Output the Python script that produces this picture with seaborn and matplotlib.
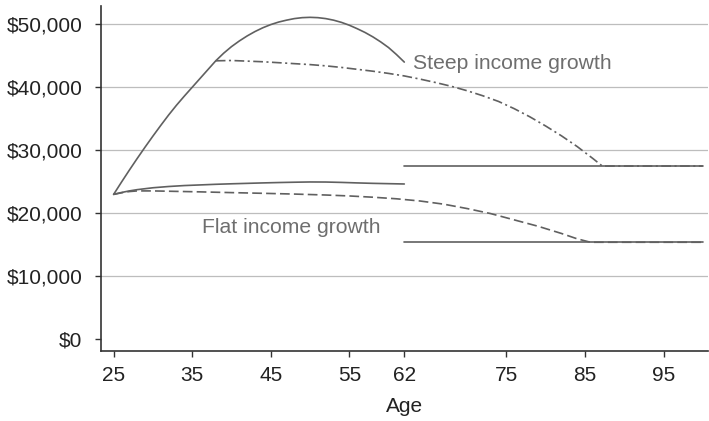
import matplotlib
matplotlib.use("Agg")
import matplotlib.pyplot as plt
import seaborn as sns
import pandas as pd

# ---------------- data ----------------
steep_work_age = [25, 26, 27, 28, 29, 30, 31, 32, 33, 34, 35, 36, 37, 38, 39, 40,
                  41, 42, 43, 44, 45, 46, 47, 48, 49, 50, 51, 52, 53, 54, 55, 56,
                  57, 58, 59, 60, 61, 62]
steep_work_val = [23000, 24950, 26850, 28700, 30500, 32250, 33950, 35600, 37150,
                  38600, 40000, 41400, 42800, 44200, 45400, 46450, 47350, 48150,
                  48850, 49450, 49950, 50350, 50650, 50900, 51050, 51100, 51050,
                  50900, 50650, 50300, 49850, 49300, 48700, 48000, 47200, 46300,
                  45200, 44000]

steep_spend_age = [38, 40, 42, 44, 46, 48, 50, 52, 54, 56, 58, 60, 62, 64, 66, 68,
                   70, 72, 74, 76, 78, 80, 82, 84, 86, 87.2, 100]
steep_spend_val = [44200, 44250, 44150, 44050, 43900, 43750, 43600, 43400, 43150,
                   42850, 42550, 42200, 41800, 41300, 40750, 40150, 39450, 38650,
                   37750, 36600, 35300, 33850, 32300, 30600, 28700, 27500, 27500]

steep_retire_age = [62, 100]
steep_retire_val = [27500, 27500]

flat_work_age = [25, 26, 27, 28, 30, 32, 34, 36, 38, 40, 42, 44, 46, 48, 50, 52,
                 54, 56, 58, 60, 62]
flat_work_val = [23000, 23300, 23550, 23750, 24050, 24250, 24400, 24500, 24600,
                 24680, 24750, 24820, 24880, 24930, 24970, 24960, 24900, 24820,
                 24750, 24700, 24650]

flat_spend_age = [25, 26, 27, 28, 30, 32, 36, 40, 44, 48, 52, 55, 58, 61, 64, 67,
                  70, 73, 76, 79, 82, 84, 85.7, 100]
flat_spend_val = [23000, 23250, 23450, 23550, 23550, 23500, 23400, 23280, 23170,
                  23050, 22900, 22750, 22550, 22300, 21950, 21450, 20750, 19950,
                  18950, 17950, 16800, 15950, 15400, 15400]

flat_retire_age = [62, 100]
flat_retire_val = [15400, 15400]

x_ticks = [25, 35, 45, 55, 62, 75, 85, 95]
y_ticks = [0, 10000, 20000, 30000, 40000, 50000]
y_tick_labels = ["$0", "$10,000", "$20,000", "$30,000", "$40,000", "$50,000"]

label_steep = "Steep income growth"
label_flat = "Flat income growth"
x_label = "Age"

# ---------------- style ----------------
sns.set_theme(style="white")
plt.rcParams["font.family"] = ["Liberation Sans", "DejaVu Sans"]
plt.rcParams["lines.scale_dashes"] = False

line_color = "#606060"
lw = 1.2

fig = plt.figure(figsize=(7.09, 4.21), dpi=100)
ax = fig.add_axes([0.142, 0.167, 0.857, 0.8195])

# gridlines (behind)
for yv in y_ticks[1:]:
    ax.axhline(yv, color="#bdbdbd", lw=0.9, zorder=0)

def draw(ages, vals, ls):
    df = pd.DataFrame({"age": ages, "value": vals})
    sns.lineplot(data=df, x="age", y="value", ax=ax, color=line_color,
                 linewidth=lw, linestyle=ls, sort=False, estimator=None, zorder=3)

draw(steep_work_age, steep_work_val, "-")
draw(steep_spend_age, steep_spend_val, (0, (7, 2.5, 1.5, 2.5)))
draw(steep_retire_age, steep_retire_val, "-")
draw(flat_work_age, flat_work_val, "-")
draw(flat_spend_age, flat_spend_val, (0, (7, 3)))
draw(flat_retire_age, flat_retire_val, "-")

ax.text(63.1, 42860, label_steep, fontsize=15.2, color="#6e6e6e", va="baseline", ha="left")
ax.text(36.2, 16830, label_flat, fontsize=15.2, color="#6e6e6e", va="baseline", ha="left")

ax.set_xlim(23.35, 100.7)
ax.set_ylim(-1810, 52950)
ax.set_xticks(x_ticks)
ax.set_xticklabels([str(v) for v in x_ticks])
ax.set_yticks(y_ticks)
ax.set_yticklabels(y_tick_labels)
ax.set_xlabel(x_label, fontsize=15, color="#222222", labelpad=9)
ax.set_ylabel("")

for side in ["top", "right"]:
    ax.spines[side].set_visible(False)
for side in ["left", "bottom"]:
    ax.spines[side].set_color("#333333")
    ax.spines[side].set_linewidth(1.2)

ax.tick_params(axis="x", which="major", bottom=True, length=4.5, width=1.0,
               color="#333333", labelsize=15, labelcolor="#222222", pad=6.5)
ax.tick_params(axis="y", which="major", left=True, length=4.5, width=1.0,
               color="#333333", labelsize=15, labelcolor="#222222", pad=8.5)
ax.grid(False)

fig.savefig("out.png", dpi=100)
